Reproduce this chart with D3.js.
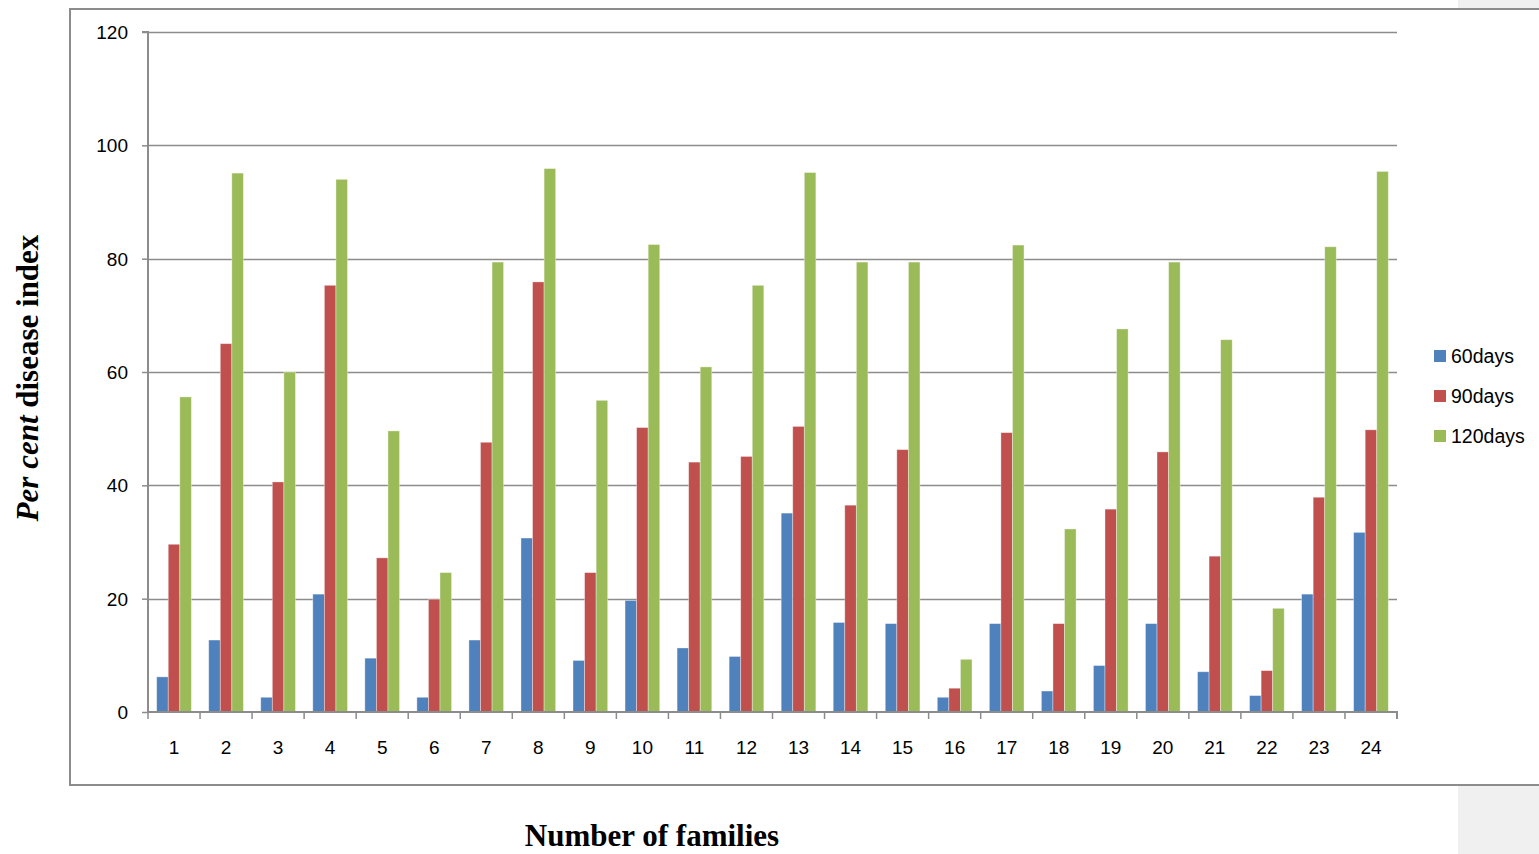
<!DOCTYPE html>
<html><head><meta charset="utf-8">
<script src="https://cdn.jsdelivr.net/npm/d3@7"></script>
<style>html,body{margin:0;padding:0;background:#fff;overflow:hidden}</style>
</head><body>
<svg id="c" width="1539" height="854"></svg>
<script>
const families = ["1","2","3","4","5","6","7","8","9","10","11","12","13","14","15","16","17","18","19","20","21","22","23","24"];
const days60  = [6.2,12.7,2.6,20.8,9.5,2.6,12.7,30.7,9.1,19.7,11.3,9.8,35.1,15.8,15.6,2.6,15.6,3.7,8.2,15.6,7.1,2.9,20.8,31.7];
const days90  = [29.6,65.0,40.6,75.3,27.2,19.9,47.6,75.9,24.6,50.2,44.1,45.1,50.4,36.5,46.3,4.2,49.3,15.6,35.8,45.9,27.5,7.3,37.9,49.8];
const days120 = [55.6,95.1,60.0,94.0,49.6,24.6,79.4,95.9,55.0,82.5,60.9,75.3,95.2,79.4,79.4,9.3,82.4,32.3,67.6,79.4,65.7,18.3,82.1,95.4];
const seriesNames = ["60days","90days","120days"];
const yTicks = [0,20,40,60,80,100,120];

(function(){
const colors = ["#4F81BD","#C0504D","#9BBB59"];
const svg = d3.select("#c");
const W = 1539, H = 854;

svg.append("rect").attr("x",1458).attr("y",0).attr("width",W-1458).attr("height",H).attr("fill","#f0f0f0");
svg.append("rect").attr("x",70).attr("y",9).attr("width",W-70+10).attr("height",776)
  .attr("fill","#fff").attr("stroke","#8c8c8c").attr("stroke-width",2);

const pL = 148, pR = 1397, pT = 32, pB = 712;
const x = d3.scaleBand().domain(families).range([pL,pR]).paddingInner(0).paddingOuter(0);
const y = d3.scaleLinear().domain([0,120]).range([pB,pT]);
const inner = d3.scaleBand().domain(seriesNames).range([0,x.bandwidth()]).paddingInner(0).paddingOuter(0.75);

svg.append("g").selectAll("line").data(yTicks.filter(t=>t>0)).join("line")
  .attr("x1",pL).attr("x2",pR).attr("y1",d=>Math.round(y(d))+0.5).attr("y2",d=>Math.round(y(d))+0.5)
  .attr("stroke","#8c8c8c").attr("stroke-width",1.3);

const data = [days60, days90, days120];
const g = svg.append("g");
data.forEach((arr,si)=>{
  g.selectAll(null).data(arr).join("rect")
    .attr("x",(d,i)=>x(families[i])+inner(seriesNames[si]))
    .attr("width",inner.bandwidth())
    .attr("y",d=>y(d)).attr("height",d=>pB-y(d))
    .attr("fill",colors[si])
    .attr("stroke","rgba(255,255,255,0.45)").attr("stroke-width",0.8);
});

const yAxis = d3.axisLeft(y).tickValues(yTicks).tickSize(6).tickPadding(14).tickFormat(d3.format("d"));
const ya = svg.append("g").attr("transform",`translate(${pL},0)`).call(yAxis);
ya.select(".domain").attr("stroke","#8c8c8c").attr("stroke-width",2).attr("d",`M-6,${pT}H0V${pB}`);
ya.selectAll(".tick line").attr("stroke","#8c8c8c").attr("stroke-width",1.5);
ya.selectAll("text").attr("font-family","Liberation Sans, Arial, sans-serif").attr("font-size",19).attr("fill","#000").attr("dy","0.35em");

const xa = svg.append("g").attr("transform",`translate(0,${pB})`).call(d3.axisBottom(x).tickSize(0).tickPadding(29));
xa.select(".domain").attr("stroke","#8c8c8c").attr("stroke-width",2).attr("d",`M${pL},0H${pR}V7`);
xa.selectAll("text").attr("font-family","Liberation Sans, Arial, sans-serif").attr("font-size",19).attr("fill","#000");
svg.append("g").selectAll("line").data(families).join("line")
  .attr("x1",d=>x(d)).attr("x2",d=>x(d)).attr("y1",pB).attr("y2",pB+7)
  .attr("stroke","#8c8c8c").attr("stroke-width",1.5);

const lg = svg.append("g");
seriesNames.forEach((n,i)=>{
  const yy = 356 + i*40;
  lg.append("rect").attr("x",1434).attr("y",yy-6).attr("width",12).attr("height",12).attr("fill",colors[i]);
  lg.append("text").attr("x",1451).attr("y",yy).attr("dy","0.36em").text(n)
    .attr("font-family","Liberation Sans, Arial, sans-serif").attr("font-size",19.5).attr("fill","#000");
});

const yt = svg.append("text").attr("transform","translate(38,378) rotate(-90)").attr("text-anchor","middle")
  .attr("font-family","Liberation Serif, Times New Roman, serif").attr("font-size",31).attr("font-weight","bold").attr("fill","#000");
yt.append("tspan").attr("font-style","italic").text("Per cent");
yt.append("tspan").text(" disease index");

svg.append("text").attr("x",652).attr("y",846).attr("text-anchor","middle")
  .attr("font-family","Liberation Serif, Times New Roman, serif").attr("font-size",31).attr("font-weight","bold").attr("fill","#000")
  .text("Number of families");
})();
</script>
</body></html>
